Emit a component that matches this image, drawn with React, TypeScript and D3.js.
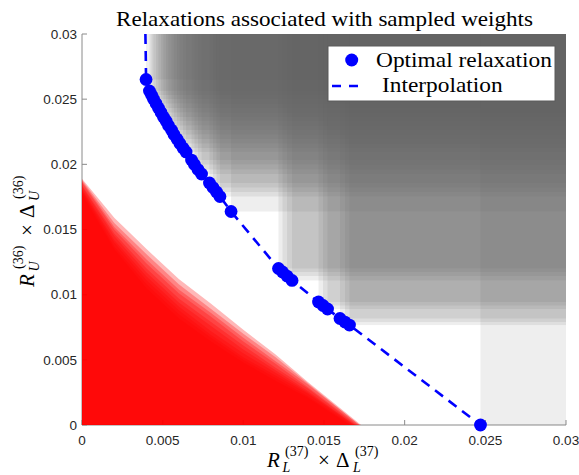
import React from "react";
import * as d3 from "d3";

// ---- data ----
const optimalX = [
  0.00397, 0.00418, 0.00431, 0.00443, 0.00459, 0.00474, 0.0049, 0.00505, 0.00521, 0.00536,
  0.00555, 0.0057, 0.00589, 0.00607, 0.00626, 0.00645,
  0.00679, 0.00697, 0.00719, 0.00741,
  0.0079, 0.00812, 0.00834, 0.00855,
  0.00924,
  0.01218, 0.01243, 0.01271, 0.01302,
  0.01466, 0.01494, 0.01522,
  0.01599, 0.0163, 0.01658,
  0.0247,
];
const optimalY = [
  0.02651, 0.02563, 0.02532, 0.02501, 0.02467, 0.02432, 0.02398, 0.02363, 0.02333, 0.02298,
  0.02263, 0.02229, 0.02194, 0.0216, 0.02125, 0.02095,
  0.02033, 0.01999, 0.0196, 0.01926,
  0.01857, 0.01822, 0.01788, 0.01753,
  0.01638,
  0.01201, 0.01174, 0.01143, 0.01109,
  0.00944, 0.00917, 0.0089,
  0.00817, 0.0079, 0.00767,
  0.0,
];
// start of the interpolation curve above the first optimal point
const interpTopX = [0.00393, 0.00395];
const interpTopY = [0.03, 0.0285];

// red relaxation regions: boundary heights at these x knots, plus x-axis intercept
const redKnotsX = [0, 0.002, 0.004, 0.006, 0.008, 0.01, 0.012, 0.014];
const redCurveHeights = [
  [0.0189, 0.0159, 0.0135, 0.0112, 0.0093, 0.0073, 0.0054, 0.0033],
  [0.0188, 0.0155, 0.0131, 0.0108, 0.0089, 0.007, 0.0052, 0.0032],
  [0.0187, 0.0152, 0.0127, 0.0104, 0.0086, 0.0067, 0.0049, 0.0031],
  [0.0186, 0.015, 0.0124, 0.0101, 0.0083, 0.0064, 0.0047, 0.0029],
  [0.0184, 0.0147, 0.012, 0.0097, 0.0079, 0.0061, 0.0044, 0.0028],
  [0.0183, 0.0145, 0.0117, 0.0094, 0.0076, 0.0058, 0.0042, 0.0026],
  [0.0181, 0.0142, 0.0114, 0.0091, 0.0072, 0.0055, 0.004, 0.0025],
  [0.018, 0.014, 0.0111, 0.0088, 0.0069, 0.0052, 0.0038, 0.0024],
  [0.0179, 0.0137, 0.0108, 0.0085, 0.0067, 0.005, 0.0036, 0.0022],
  [0.0177, 0.0135, 0.0105, 0.0082, 0.0064, 0.0048, 0.0034, 0.0021],
];
const redCurveEnds = [0.0173, 0.0172, 0.0172, 0.0171, 0.017, 0.0169, 0.0169, 0.0168, 0.0167, 0.0166];

const xTicks = [0, 0.005, 0.01, 0.015, 0.02, 0.025, 0.03];
const xTickLabels = ["0", "0.005", "0.01", "0.015", "0.02", "0.025", "0.03"];
const yTicks = [0, 0.005, 0.01, 0.015, 0.02, 0.025, 0.03];
const yTickLabels = ["0", "0.005", "0.01", "0.015", "0.02", "0.025", "0.03"];

const titleText = "Relaxations associated with sampled weights";
const legendLabels = ["Optimal relaxation", "Interpolation"];

const W = 579;
const H = 475;
const serif = "'Liberation Serif', 'Times New Roman', serif";
const sans = "'Liberation Sans', Arial, Helvetica, sans-serif";

function MathLabel({ sub, sup }: { sub: string; sup: string }) {
  // local layout, starts at x=0, baseline y=0
  const big = 21;
  const small = 14;
  return (
    <g fontFamily={serif} fill="#000">
      <text x={0} y={0} fontSize={big} fontStyle="italic">R</text>
      <text x={18} y={-11} fontSize={small}>({sup})</text>
      <text x={15.5} y={5} fontSize={small} fontStyle="italic">{sub}</text>
      <text x={51} y={0} fontSize={big}>×</text>
      <text x={69} y={0} fontSize={big}>Δ</text>
      <text x={88} y={-11} fontSize={small}>({sup})</text>
      <text x={86} y={5} fontSize={small} fontStyle="italic">{sub}</text>
    </g>
  );
}

export default function App() {
  const x = d3.scaleLinear().domain([0, 0.03]).range([82, 566]);
  const y = d3.scaleLinear().domain([0, 0.03]).range([425, 34]);

  const pts = optimalX.map((v, i) => [v, optimalY[i]] as [number, number]);
  const interp = interpTopX.map((v, i) => [v, interpTopY[i]] as [number, number]).concat(pts);

  const line = d3
    .line<[number, number]>()
    .x((d) => x(d[0]))
    .y((d) => y(d[1]));

  const redPolys = redCurveHeights.map((hs, ci) => {
    const poly: [number, number][] = [[0, 0]];
    hs.forEach((h, k) => poly.push([redKnotsX[k], h]));
    poly.push([redCurveEnds[ci], 0]);
    return poly;
  });

  const axisColor = "#8a8a8a";
  const tickLen = 5;

  return (
    <svg
      width={W}
      height={H}
      style={{ position: "absolute", left: 0, top: 0, background: "#fff" }}
    >
      <rect x={0} y={0} width={W} height={H} fill="#fff" />
      <defs>
        <clipPath id="plotClip">
          <rect x={x(0)} y={y(0.03)} width={x(0.03) - x(0)} height={y(0) - y(0.03)} />
        </clipPath>
      </defs>

      {/* axes (drawn below data) */}
      <g>
        <line x1={x(0)} x2={x(0.03)} y1={y(0)} y2={y(0)} stroke={axisColor} strokeWidth={1} />
        <line x1={x(0)} x2={x(0)} y1={y(0)} y2={y(0.03)} stroke={axisColor} strokeWidth={1} />
        {xTicks.map((t) => (
          <line key={"xt" + t} x1={x(t)} x2={x(t)} y1={y(0)} y2={y(0) - tickLen} stroke={axisColor} />
        ))}
        {yTicks.map((t) => (
          <line key={"yt" + t} x1={x(0)} x2={x(0) + tickLen} y1={y(t)} y2={y(t)} stroke={axisColor} />
        ))}
      </g>

      <g clipPath="url(#plotClip)">
        {/* grey regions dominated by each optimal relaxation */}
        {pts.map((p, i) => (
          <rect
            key={"g" + i}
            x={x(p[0])}
            y={y(0.03)}
            width={x(0.03) - x(p[0])}
            height={y(p[1]) - y(0.03)}
            fill="#666666"
            fillOpacity={0.11}
          />
        ))}

        {/* red relaxation regions */}
        {redPolys.map((c, i) => (
          <path
            key={"r" + i}
            d={(line(c) || "") + "Z"}
            fill="#ff0000"
            fillOpacity={0.28}
          />
        ))}
      </g>

      {/* interpolation line */}
      <path
        d={line(interp) || ""}
        fill="none"
        stroke="#0000ff"
        strokeWidth={2.6}
        strokeDasharray="10 7"
      />
      {/* markers */}
      {pts.map((p, i) => (
        <circle key={"m" + i} cx={x(p[0])} cy={y(p[1])} r={6.4} fill="#0000ff" />
      ))}

      {/* tick labels */}
      <g fontFamily={sans} fontSize={13.5} fill="#262626">
        {xTicks.map((t, i) => (
          <text key={"xl" + t} x={x(t)} y={445} textAnchor="middle">
            {xTickLabels[i]}
          </text>
        ))}
        {yTicks.map((t, i) => (
          <text key={"yl" + t} x={77} y={y(t) + 4.8} textAnchor="end">
            {yTickLabels[i]}
          </text>
        ))}
      </g>

      {/* axis labels */}
      <g transform="translate(267,466.5)">
        <MathLabel sub="L" sup="37" />
      </g>
      <g transform="translate(33.5,287) rotate(-90)">
        <MathLabel sub="U" sup="36" />
      </g>

      {/* title */}
      <text
        x={116}
        y={26}
        fontFamily={serif}
        fontSize={21}
        textLength={417}
        lengthAdjust="spacingAndGlyphs"
        fill="#000"
      >
        {titleText}
      </text>

      {/* legend */}
      <g>
        <rect x={328} y={46} width={227} height={55} fill="#fff" stroke="#5a5a5a" strokeWidth={1} />
        <circle cx={351.7} cy={60} r={6.5} fill="#0000ff" />
        <line x1={332} x2={361} y1={86} y2={86} stroke="#0000ff" strokeWidth={2.6} strokeDasharray="9 8" />
        <text x={376} y={66.5} fontFamily={serif} fontSize={21} textLength={176} lengthAdjust="spacingAndGlyphs">
          {legendLabels[0]}
        </text>
        <text x={382} y={91.7} fontFamily={serif} fontSize={21} textLength={120.6} lengthAdjust="spacingAndGlyphs">
          {legendLabels[1]}
        </text>
      </g>
    </svg>
  );
}
